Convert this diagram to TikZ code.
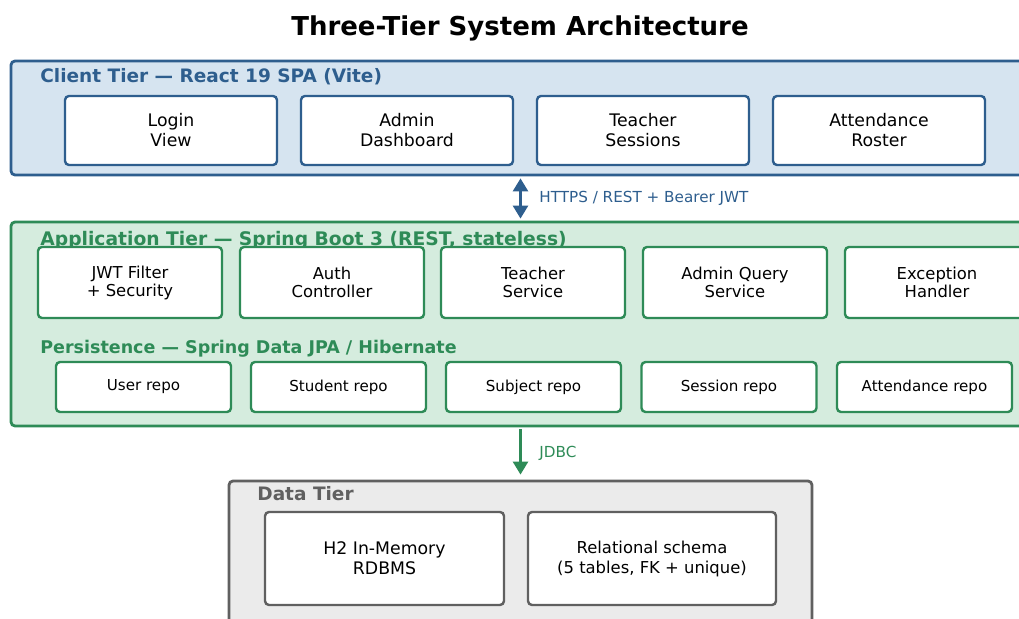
\documentclass[tikz,border=0pt]{standalone}
\usepackage{fontspec}
\setmainfont{DejaVu Sans}
\usetikzlibrary{positioning,arrows.meta}

\definecolor{cliblue}{HTML}{2E5E8E}
\definecolor{clifill}{HTML}{D6E4F0}
\definecolor{appgreen}{HTML}{2E8B57}
\definecolor{appfill}{HTML}{D5ECDE}
\definecolor{datagray}{HTML}{606060}
\definecolor{datafill}{HTML}{EBEBEB}

\begin{document}
\begin{tikzpicture}[
  x=0.5pt,y=-0.5pt,
  >={Triangle[length=6.5pt,width=7.5pt]},
  tier/.style={draw,rounded corners=2pt,line width=1.4pt,inner sep=0pt},
  box/.style={draw,fill=white,rounded corners=2pt,line width=1.2pt,align=center,inner sep=0pt},
  clibox/.style={box,draw=cliblue,font=\fontsize{8.65}{10}\selectfont,minimum width=106pt,minimum height=34.5pt},
  appbox/.style={box,draw=appgreen,font=\fontsize{8.2}{9}\selectfont,minimum width=92pt,minimum height=35.5pt},
  repobox/.style={box,draw=appgreen,font=\fontsize{7.55}{9}\selectfont,minimum width=87.5pt,minimum height=25pt},
  databox/.style={box,draw=datagray,minimum height=46.5pt},
  tierlab/.style={anchor=west,inner sep=0pt,font=\bfseries\fontsize{9.25}{11}\selectfont},
  lab/.style={anchor=west,inner sep=0pt,font=\fontsize{7.6}{9}\selectfont},
]
\clip (0,0) rectangle (1019,619);
\node[font=\bfseries\fontsize{13}{15}\selectfont] (title) at (520,28) {Three-Tier System Architecture};
% client tier
\node[tier,draw=cliblue,fill=clifill,minimum width=514.5pt,minimum height=57pt] (client) at (525.5,118) {};
\node[tierlab,text=cliblue] (clientlab) at (40,77) {Client Tier --- React 19 SPA (Vite)};
\node[clibox] (login)   at (171,130.5) {Login\\View};
\node[clibox] (admin)   at (407,130.5) {Admin\\Dashboard};
\node[clibox] (teacher) at (643,130.5) {Teacher\\Sessions};
\node[clibox] (roster)  at (879,130.5) {Attendance\\Roster};
% application tier
\node[tier,draw=appgreen,fill=appfill,minimum width=514.5pt,minimum height=102pt] (app) at (525.5,324) {};
\node[tierlab,text=appgreen,font=\bfseries\fontsize{9.35}{11}\selectfont] (applab) at (40,240.5) {Application Tier --- Spring Boot 3 (REST, stateless)};
\node[appbox] (jwt)   at (130,282.5) {JWT Filter\\+ Security};
\node[appbox] (auth)  at (332,282.5) {Auth\\Controller};
\node[appbox] (tsvc)  at (533,282.5) {Teacher\\Service};
\node[appbox] (aqsvc) at (735,282.5) {Admin Query\\Service};
\node[appbox] (exc)   at (937,282.5) {Exception\\Handler};
% persistence row
\node[tierlab,text=appgreen,font=\bfseries\fontsize{8.75}{11}\selectfont] (perslab) at (40,349) {Persistence --- Spring Data JPA / Hibernate};
\node[repobox] (userrepo)    at (143.5,387) {User repo};
\node[repobox] (studentrepo) at (338.5,387) {Student repo};
\node[repobox] (subjectrepo) at (533.5,387) {Subject repo};
\node[repobox] (sessionrepo) at (729,387)   {Session repo};
\node[repobox] (attrepo)     at (924.5,387) {Attendance repo};
% data tier
\node[tier,draw=datagray,fill=datafill,minimum width=291.5pt,minimum height=79.5pt] (data) at (520.5,560.5) {};
\node[tierlab,text=datagray] (datalab) at (257,494) {Data Tier};
\node[databox,minimum width=119.5pt,font=\fontsize{8.65}{10}\selectfont] (h2)     at (384.5,558.5) {H2 In-Memory\\RDBMS};
\node[databox,minimum width=124pt,font=\fontsize{8.2}{10}\selectfont]   (schema) at (652,558.5)   {Relational schema\\(5 tables, FK + unique)};
% ---- arrows ----
\draw[<->,line width=1.3pt,cliblue,shorten <=1pt,shorten >=1pt] (client.south -| data.north) -- (app.north -| data.north);
\node[lab,text=cliblue] (httpslab) at (539,198) {HTTPS / REST + Bearer JWT};
\draw[->,line width=1.3pt,appgreen,shorten <=1pt,shorten >=2.5pt] (app.south -| data.north) -- (data.north);
\node[lab,text=appgreen] (jdbclab) at (539,453) {JDBC};
\end{tikzpicture}
\end{document}
